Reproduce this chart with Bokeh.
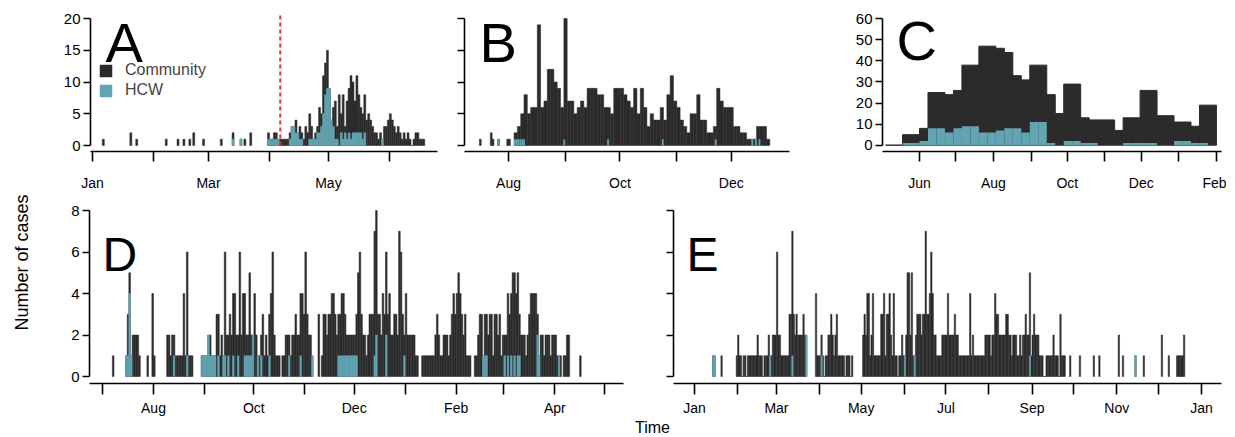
import math
from datetime import date

from bokeh.plotting import figure
from bokeh.layouts import row, column
from bokeh.models import (ColumnDataSource, Range1d, FixedTicker, Label,
                          Legend, LegendItem)
from bokeh.embed import file_html
from bokeh.resources import INLINE
from bokeh.core.properties import value

FONT = "Liberation Sans"
BLACK = "#2b2b2b"
BLUE = "#63a4b3"

# ---------------------------------------------------------------
# data (daily counts; day 0 = first day of the panel's start month)
# ---------------------------------------------------------------

# A: day 0 = 1 Jan
A_sparse = [(5, 1), (19, 2), (22, 1), (37, 1), (43, 1), (46, 1), (49, 1), (51, 2),
            (56, 1), (65, 1), (71, 2), (75, 1), (77, 1), (80, 2)]
A_run_start = 89
A_run = [2, 1, 1, 2, 2, 1, 1, 1, 1, 1, 1, 2, 3, 3, 4, 2, 3, 2, 1, 3,
         2, 5, 3, 1, 2, 3, 6, 5, 11, 13, 15, 9, 4, 6, 7, 3, 8, 5, 8, 3,
         7, 9, 11, 10, 7, 11, 8, 6, 5, 8, 4, 5, 4, 3, 2, 2, 1, 2, 1, 3,
         3, 4, 5, 4, 3, 2, 3, 2, 1, 2, 1, 2, 1, 0, 1, 2, 2, 1, 1, 1]
A_hcw = [(71, 1), (75, 1), (89, 1), (90, 1), (91, 1), (92, 1), (93, 1), (94, 1),
         (100, 1), (101, 3), (102, 3), (103, 2), (104, 2), (105, 1), (106, 1),
         (110, 1), (111, 1), (112, 1), (113, 1), (114, 2), (115, 2), (116, 3),
         (117, 5), (118, 8), (119, 9), (120, 9), (121, 4), (122, 3), (123, 1),
         (124, 1), (126, 2), (127, 1), (128, 2), (129, 1), (130, 2), (131, 1),
         (132, 2), (133, 2), (134, 2), (135, 2), (136, 2), (137, 1), (138, 2),
         (147, 1)]
A_intervention_day = 95.5

# B: day 0 = 1 Jul
B_sparse = [(15, 1), (21, 2), (22, 1), (25, 1), (30, 1), (31, 1)]
B_bin_start = 34.0
B_bin_width = 1.82
B_bins = [2, 3, 5, 8, 5, 6, 6, 19, 6, 7, 12, 12, 10, 9, 6, 20, 7, 7, 5, 6,
          7, 6, 9, 9, 9, 8, 8, 6, 6, 5, 9, 9, 9, 8, 7, 6, 9, 5, 9, 6,
          3, 5, 4, 4, 6, 4, 8, 11, 7, 6, 4, 3, 2, 5, 5, 8, 4, 4, 2, 2,
          3, 9, 7, 6, 6, 6, 3, 3, 2, 2, 1, 1, 1, 3, 3, 3, 1]
B_hcw = [(25, 1), (34, 1), (35, 1), (36, 1), (37, 1), (38, 1), (39, 1), (61, 1),
         (85, 1), (115, 1), (144, 1), (164, 1), (166, 1), (168, 1)]

# C: weekly bins, day 0 = 1 Jun
C_bin_start = -28
C_bin_width = 7
C_total = [0, 0, 5, 5, 8, 25, 25, 24, 26, 38, 38, 47, 47, 46, 44, 33, 31, 38, 38, 24,
           15, 29, 29, 13, 12, 12, 12, 7, 13, 13, 26, 26, 14, 14, 11, 11, 9, 19, 19]
C_hcw = [0, 0, 1, 1, 2, 8, 8, 6, 8, 9, 9, 6, 6, 7, 8, 8, 6, 11, 11, 1,
         0, 2, 2, 1, 1, 0, 0, 0, 1, 1, 1, 1, 0, 0, 2, 2, 1, 1, 0]

# D: day 0 = 1 Jul
D_runs = [
    (6, [1]),
    (14, [1, 3, 5, 1, 2, 2, 2, 2, 1]),
    (27, [1]),
    (30, [4, 1]),
    (39, [2, 2, 1, 2, 2, 1, 1, 1, 1, 1, 4, 1, 6, 1, 1, 1]),
    (60, [1, 1, 1, 1, 2, 2, 1, 1, 1, 3, 3, 1, 2, 1, 6, 2, 2, 3, 2, 4, 4, 2, 2, 6,
          2, 4, 4, 2, 2, 5, 2, 2, 4, 2, 1, 1, 2, 3, 1, 2, 1, 3, 4, 6, 2, 1, 1, 1]),
    (109, [1, 1, 2, 2, 2, 1, 2, 2, 3, 2, 2, 4, 4, 3, 6, 3, 2, 2, 1]),
    (131, [3]),
    (133, [1, 3, 3, 2, 3, 3, 4, 4, 3, 2, 3, 3, 4, 4, 3, 2, 2, 2, 2, 2, 2, 3, 5, 6,
           3, 2, 2, 1, 2, 3, 3, 3, 7, 8, 3, 3, 2, 4, 3, 6, 3, 4, 2, 2, 3, 3, 2, 7,
           6, 3, 2, 4, 2, 2, 2, 2, 2, 1, 1]),
    (194, [1, 1, 1, 1, 1, 1, 1, 1, 2, 3, 2, 1, 1, 2, 2, 2, 1, 2, 3, 4, 3, 4, 5, 4,
           3, 2, 3, 1, 1, 1]),
    (226, [1, 1, 2, 3, 3, 1, 3, 3, 2, 3, 3, 1, 3, 3, 2, 3, 1, 2, 2, 2, 4, 3, 4, 5,
           5, 4, 5, 3, 2, 2, 2, 1, 2, 3, 4, 4, 4, 4, 3, 1, 2, 2, 1, 2, 2, 2, 1, 2,
           2, 2, 1, 1, 1]),
    (280, [1, 1, 2, 2]),
    (290, [1]),
]
D_hcw = [(14, 1), (15, 1), (16, 4), (17, 1), (43, 1), (51, 1), (60, 1), (61, 1),
         (62, 1), (63, 1), (64, 2), (65, 1), (66, 1), (67, 1), (68, 1), (70, 1),
         (73, 1), (74, 1), (76, 1), (79, 1), (82, 1), (86, 1), (87, 1), (88, 1),
         (89, 1), (90, 1), (91, 2), (94, 1), (96, 1), (101, 1), (113, 1), (120, 1),
         (127, 1), (143, 1), (144, 1), (145, 1), (146, 1), (147, 1), (148, 1),
         (149, 1), (150, 1), (151, 1), (152, 1), (153, 1), (154, 1), (165, 1),
         (166, 2), (172, 2), (183, 1), (231, 1), (232, 1), (233, 1), (244, 1),
         (246, 1), (248, 1), (250, 1), (252, 1), (253, 1), (264, 2), (265, 1),
         (277, 1)]

# E: day 0 = 1 Jan
E_runs = [
    (13, [1, 1]),
    (19, [1]),
    (30, [1, 2, 1, 1, 0, 1, 1, 0, 1, 1, 1, 1, 1, 1, 1, 2, 1, 1, 1, 0, 1, 1, 1, 2,
          1, 1, 2, 2, 2, 6]),
    (60, [2, 2, 1, 1, 1, 1, 1, 1, 3, 3, 7, 3, 2, 3, 2, 2, 2, 2, 3, 2, 2]),
    (87, [4, 1, 1, 1, 2, 1, 0, 1, 1, 2, 2, 3, 2, 1, 2, 3, 1, 1, 1, 1, 1, 0, 1, 1,
          1, 0, 1]),
    (121, [2, 3, 2, 4, 4, 1, 2, 4, 1, 1, 1, 1, 1, 3, 3, 4, 1, 3, 3, 4, 2, 1, 4, 1,
           1, 0, 1, 1, 2, 1, 1, 2, 5, 5, 2, 5, 1, 1, 2, 3, 3, 3, 2, 3, 3, 7, 3, 3,
           4, 6, 4, 2, 2, 1, 1, 1, 1]),
    (178, [2, 2, 2, 2, 4, 2, 2, 2, 2, 3, 2, 2, 1, 1, 1, 1, 1, 1, 1, 1, 4, 1, 2, 1,
           1, 1, 1, 1, 1, 1, 1, 2, 2, 2, 2, 1, 2, 2, 4]),
    (217, [3, 3, 2, 2, 2, 2, 2, 3, 3, 2, 2, 1, 2, 2, 2, 1, 1, 2, 1, 2, 2, 3, 2, 2,
           5, 1, 2, 3, 2]),
    (246, [2, 2, 1, 1, 1, 0, 0, 1, 1, 1, 1, 1, 2, 1, 1, 1, 0, 3, 1, 1, 1]),
    (270, [1]), (277, [1]), (287, [1]), (291, [1]), (305, [2]), (308, [1]),
    (317, [1]), (323, [1]), (336, [2]), (341, [1]), (347, [1, 1, 1, 1, 1, 2]),
]
E_hcw = [(13, 1), (14, 1), (54, 1), (70, 1), (80, 2), (91, 1), (151, 1), (158, 1),
         (241, 1), (317, 1)]

MONTHS = ["Jan", "Feb", "Mar", "Apr", "May", "Jun", "Jul", "Aug", "Sep", "Oct", "Nov", "Dec"]

# the page content lands a few pixels up/left of where the reference has it
OFF = 7


def flatten(runs):
    out = {}
    for start, vals in runs:
        for i, v in enumerate(vals):
            out[start + i] = v
    return out


def month_ticks(y, m, count, labelled):
    d0 = date(y, m, 1)
    ticks, over = [], {}
    for i in range(count):
        mm = (m - 1 + i) % 12
        yy = y + (m - 1 + i) // 12
        t = (date(yy, mm + 1, 1) - d0).days
        ticks.append(t)
        over[t] = MONTHS[mm] if MONTHS[mm] in labelled and i in labelled[MONTHS[mm]] else ""
    return ticks, over


def bare(width, height):
    p = figure(width=width, height=height, x_range=Range1d(0, width),
               y_range=Range1d(0, height), output_backend="svg",
               toolbar_location=None, min_border=0)
    p.axis.visible = False
    p.grid.visible = False
    p.outline_line_color = None
    return p


def panel(pcfg):
    fl, ft, fw, fh = pcfg["frame"]
    x0p, ppd = pcfg["xmap"]
    y0p, ppu = pcfg["ymap"]
    xr = Range1d((fl - x0p) / ppd, (fl + fw - x0p) / ppd)
    yr = Range1d((y0p - (ft + fh)) / ppu, (y0p - ft) / ppu)
    b = pcfg["borders"]
    p = figure(frame_width=fw, frame_height=fh, x_range=xr, y_range=yr,
               min_border_left=b[0], min_border_right=b[1],
               min_border_top=b[2], min_border_bottom=b[3],
               output_backend="svg", toolbar_location=None)
    p.grid.visible = False
    p.outline_line_color = None
    for ax in (p.xaxis, p.yaxis):
        ax.axis_line_width = 1.6
        ax.major_tick_line_width = 1.6
        ax.major_tick_in = 0
        ax.minor_tick_line_color = None
        ax.major_label_text_font = FONT
        ax.major_label_text_color = "black"
        ax.axis_line_color = "black"
        ax.major_tick_line_color = "black"
    p.xaxis.major_tick_out = pcfg["xtick_len"]
    p.xaxis.major_label_standoff = pcfg["xstand"]
    p.xaxis.major_label_text_font_size = "14px"
    p.xaxis.ticker = FixedTicker(ticks=pcfg["xticks"])
    p.xaxis.major_label_overrides = pcfg["xlabels"]
    p.yaxis.ticker = FixedTicker(ticks=pcfg["yticks"])
    p.yaxis.bounds = (pcfg["yticks"][0], pcfg["yticks"][-1])
    p.yaxis.major_tick_out = 7
    p.yaxis.major_label_standoff = 3
    p.yaxis.major_label_text_font_size = "15px"
    if not pcfg["ylabels"]:
        p.yaxis.major_label_overrides = {t: "" for t in pcfg["yticks"]}
    lx, lb, ls = pcfg["letter_pos"]
    p.add_layout(Label(x=(lx - x0p) / ppd, y=(y0p - lb) / ppu, text=pcfg["letter"],
                       text_font=FONT, text_font_size=f"{ls}px", text_color="black",
                       text_baseline="alphabetic", text_align="left"))
    return p


def daily_bars(p, totals, hcw, width=1.0):
    days = sorted(totals)
    src = ColumnDataSource(dict(left=days, right=[d + width for d in days],
                                top=[totals[d] for d in days]))
    r1 = p.quad(left="left", right="right", bottom=0, top="top", source=src,
                fill_color=BLACK, line_color=BLACK, line_width=0.5)
    hd = [d for d, _ in hcw]
    hv = [min(v, totals.get(d, v)) for d, v in hcw]
    hsrc = ColumnDataSource(dict(left=hd, right=[d + 1 for d in hd], top=hv))
    r2 = p.quad(left="left", right="right", bottom=0, top="top", source=hsrc,
                fill_color=BLUE, line_color=BLUE, line_width=0.5)
    return r1, r2


# ---------------------------------------------------------------
# panels
# ---------------------------------------------------------------
tA, oA = month_ticks(2014, 1, 6, {"Jan": [0], "Mar": [2], "May": [4]})
pA = panel(dict(frame=(91, 13, 347, 139), xmap=(93, 1.966), ymap=(146, 6.35),
                borders=(43, 17, 5 + OFF, 40), xticks=tA, xlabels=oA, xtick_len=10, xstand=13,
                yticks=[0, 5, 10, 15, 20], ylabels=True, letter="A", letter_pos=(106, 43, 56)))
A_tot = dict(A_sparse)
A_tot.update(flatten([(A_run_start, A_run)]))
rA1, rA2 = daily_bars(pA, A_tot, A_hcw)
pA.segment(x0=A_intervention_day, x1=A_intervention_day, y0=0, y1=20.5,
           line_color="#e3342f", line_width=2, line_dash="4 3")
legA = Legend(items=[LegendItem(label="Community", renderers=[rA1]),
                     LegendItem(label="HCW", renderers=[rA2])],
              location=(8, 52), label_text_font=FONT, label_text_font_size="16px",
              glyph_width=15, glyph_height=15, label_height=17, spacing=2,
              padding=0, margin=0, border_line_color=None, background_fill_alpha=0,
              label_standoff=12)
pA.add_layout(legA)

tB, oB = month_ticks(2014, 7, 6, {"Aug": [1], "Oct": [3], "Dec": [5]})
pB = panel(dict(frame=(465, 13, 325, 139), xmap=(452.5, 1.825), ymap=(146, 6.35),
                borders=(10, 63, 5 + OFF, 40), xticks=tB, xlabels=oB, xtick_len=10, xstand=13,
                yticks=[0, 5, 10, 15, 20], ylabels=False, letter="B", letter_pos=(480, 43, 56)))
daily_bars(pB, dict(B_sparse), [])
bl = [B_bin_start + i * B_bin_width for i in range(len(B_bins))]
pB.quad(left=bl, right=[x + B_bin_width for x in bl], bottom=0, top=B_bins,
        fill_color=BLACK, line_color=BLACK, line_width=0.5)
hd = [d for d, _ in B_hcw]
pB.quad(left=hd, right=[d + 1 for d in hd], bottom=0, top=[v for _, v in B_hcw],
        fill_color=BLUE, line_color=None)

tC, oC = month_ticks(2015, 6, 9, {"Jun": [0], "Aug": [2], "Oct": [4], "Dec": [6], "Feb": [8]})
pC = panel(dict(frame=(883, 13, 339, 139), xmap=(920, 1.212), ymap=(145.7, 2.107),
                borders=(30, 5, 5 + OFF, 40), xticks=tC, xlabels=oC, xtick_len=10, xstand=13,
                yticks=[0, 10, 20, 30, 40, 50, 60], ylabels=True, letter="C",
                letter_pos=(897, 41, 56)))
cl = [C_bin_start + i * C_bin_width for i in range(len(C_total))]
cr = [x + C_bin_width for x in cl]
pC.quad(left=cl, right=cr, bottom=0, top=C_total, fill_color=BLACK,
        line_color=BLACK, line_width=1)
pC.quad(left=cl, right=cr, bottom=0, top=C_hcw, fill_color=BLUE, line_color=None)

BOT = 30
tD, oD = month_ticks(2015, 7, 11, {"Aug": [1], "Oct": [3], "Dec": [5], "Feb": [7], "Apr": [9]})
pD = panel(dict(frame=(90, 196, 534, 186), xmap=(103, 1.645), ymap=(375, 20.75),
                borders=(42, 11, 4, BOT), xticks=tD, xlabels=oD, xtick_len=11, xstand=5,
                yticks=[0, 2, 4, 6, 8], ylabels=True, letter="D", letter_pos=(103, 253, 48)))
daily_bars(pD, flatten(D_runs), D_hcw)

tE, oE = month_ticks(2017, 1, 13, {"Jan": [0, 12], "Mar": [2], "May": [4], "Jul": [6],
                                   "Sep": [8], "Nov": [10]})
pE = panel(dict(frame=(674, 196, 548, 186), xmap=(695, 1.389), ymap=(375, 20.75),
                borders=(39, 5, 4, BOT), xticks=tE, xlabels=oE, xtick_len=11, xstand=5,
                yticks=[0, 2, 4, 6, 8], ylabels=False, letter="E", letter_pos=(687, 253, 48)))
daily_bars(pE, flatten(E_runs), E_hcw)

# "Time" strip under the bottom row
TIME_H = 18
pT = bare(1172, TIME_H)
pT.text(x=[660 - 48 - OFF], y=[TIME_H / 2], text=["Time"], text_font=value(FONT),
        text_font_size="16px", text_align="center", text_baseline="middle",
        text_color="black")

# y label column
H = 191 + 4 + 186 + BOT + TIME_H
pL = bare(40 + OFF, H)
pL.text(x=[21], y=[H - 262], text=["Number of cases"], angle=math.pi / 2,
        text_font=value(FONT), text_font_size="18px", text_align="center",
        text_baseline="middle", text_color="black")

layout = row(pL, column(row(pA, pB, pC), row(pD, pE), pT))

open("out.html", "w").write(file_html(layout, INLINE))
